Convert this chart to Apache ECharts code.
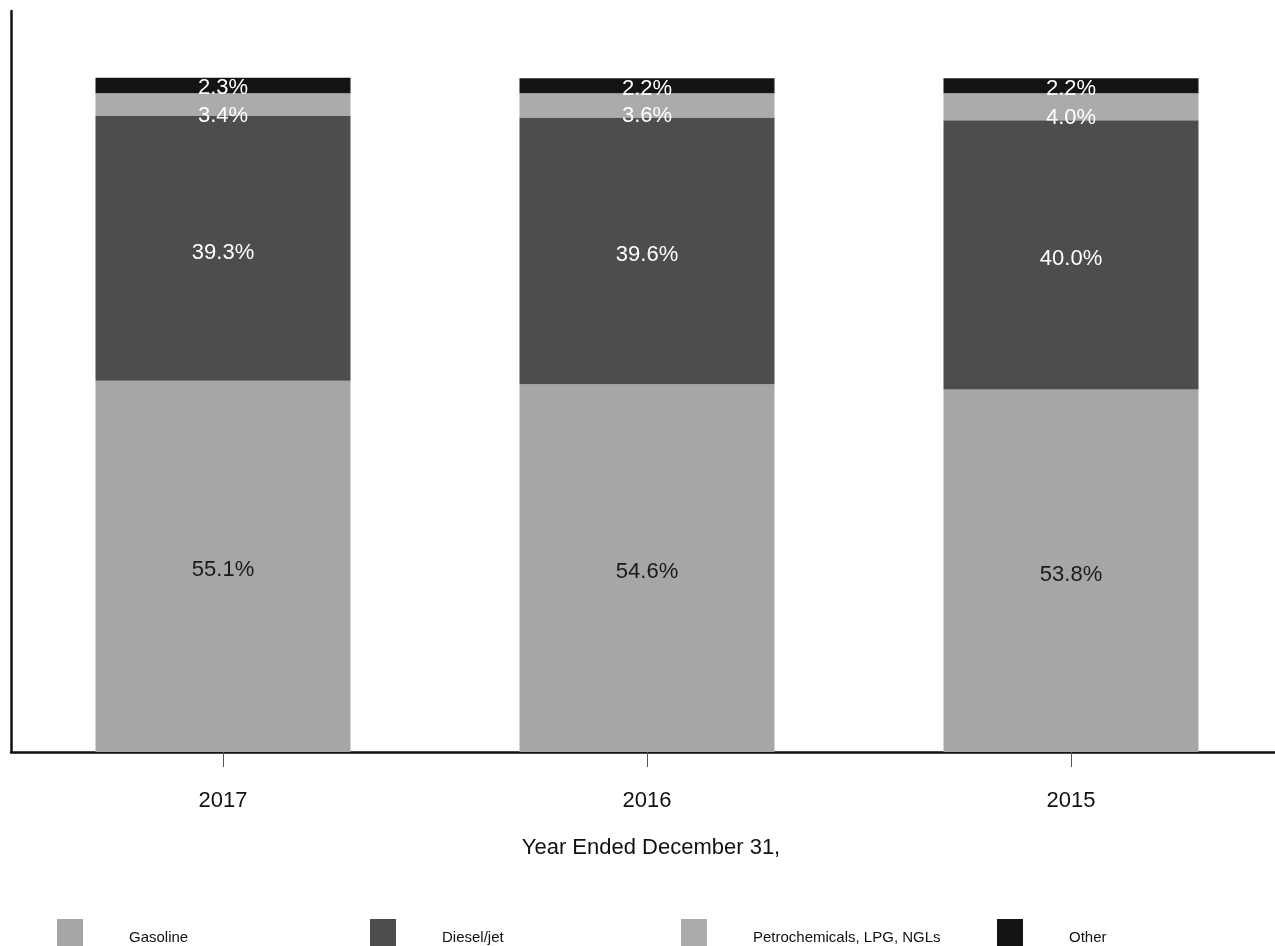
<!DOCTYPE html>
<html>
<head>
<meta charset="utf-8">
<script src="https://cdn.jsdelivr.net/npm/echarts@6/dist/echarts.min.js"></script>
<style>
  html, body { margin: 0; padding: 0; background: #fff; }
  #chart { width: 1275px; height: 946px; }
</style>
</head>
<body>
<div id="chart"></div>
<script>
// Product yield mix by year (percent of total)
const years = ['2017', '2016', '2015'];
const gasoline = [55.1, 54.6, 53.8];
const dieselJet = [39.3, 39.6, 40.0];
const petrochemicals = [3.4, 3.6, 4.0];
const other = [2.3, 2.2, 2.2];
const seriesNames = ['Gasoline', 'Diesel/jet', 'Petrochemicals, LPG, NGLs', 'Other'];

const FONT = '"Liberation Sans", Arial, sans-serif';
const colors = ['#a6a6a6', '#4d4d4d', '#ababab', '#141414'];

function pctLabel(color, offsetY) {
  return {
    show: true,
    position: 'inside',
    formatter: p => p.value.toFixed(1) + '%',
    color: color,
    fontFamily: FONT,
    fontSize: 22,
    offset: [0, offsetY]
  };
}

function bar(name, data, color, label) {
  return {
    name: name,
    type: 'bar',
    stack: 'mix',
    barWidth: 255,
    data: data,
    itemStyle: { color: color },
    label: label,
    emphasis: { disabled: true }
  };
}

// One legend block per series so the entries sit on an even spacing
const legendLefts = [57, 370, 681, 997];
const legends = seriesNames.map((name, i) => ({
  data: [name],
  left: legendLefts[i],
  top: 919,
  padding: 0,
  orient: 'horizontal',
  itemWidth: 26,
  itemHeight: 37,
  icon: 'rect',
  selectedMode: false,
  formatter: n => '{gap|}' + n,
  textStyle: {
    fontFamily: FONT,
    fontSize: 15,
    color: '#111',
    rich: { gap: { width: 41 } }
  }
}));

const chart = echarts.init(document.getElementById('chart'), null, { renderer: 'canvas' });
chart.setOption({
  animation: false,
  backgroundColor: '#ffffff',
  color: colors,
  legend: legends,
  // the plot area runs a little past the right edge of the canvas
  grid: { left: 11, width: 1272, top: 11, bottom: 194, containLabel: false, outerBoundsMode: 'none' },
  xAxis: {
    type: 'category',
    data: years,
    name: 'Year Ended December 31,',
    nameLocation: 'middle',
    nameGap: 85,
    nameTextStyle: { fontFamily: FONT, fontSize: 22, color: '#111', padding: [0, 0, 0, 8] },
    axisLine: { lineStyle: { color: '#111', width: 2.5 } },
    axisTick: { show: true, alignWithLabel: true, length: 15, lineStyle: { color: '#555', width: 1 } },
    axisLabel: { fontFamily: FONT, fontSize: 22, color: '#111', margin: 38 }
  },
  yAxis: {
    type: 'value',
    min: 0,
    max: 110,
    axisLine: { show: true, lineStyle: { color: '#111', width: 2.5 } },
    axisTick: { show: false },
    axisLabel: { show: false },
    splitLine: { show: false }
  },
  series: [
    bar(seriesNames[0], gasoline, colors[0], pctLabel('#1a1a1a', 4)),
    bar(seriesNames[1], dieselJet, colors[1], pctLabel('#ffffff', 4)),
    bar(seriesNames[2], petrochemicals, colors[2], pctLabel('#ffffff', 11)),
    bar(seriesNames[3], other, colors[3], pctLabel('#ffffff', 3))
  ]
});
</script>
</body>
</html>
